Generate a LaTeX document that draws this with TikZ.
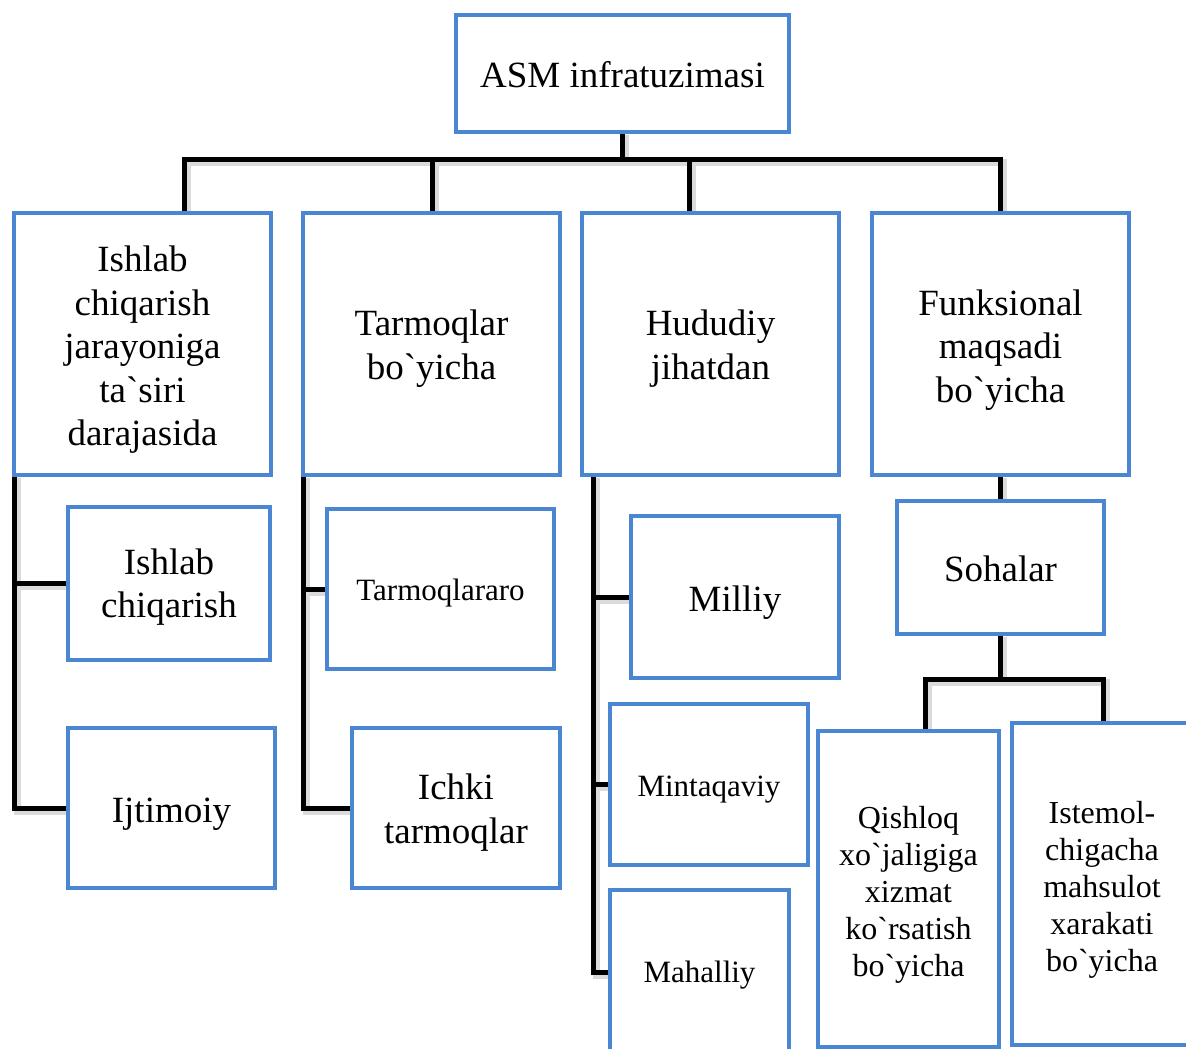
\documentclass[tikz,border=0pt]{standalone}
\usepackage{fontspec}
\setmainfont{Liberation Serif}[Ligatures=TeXOff]
\usetikzlibrary{backgrounds}
\definecolor{boxblue}{HTML}{4A86D2}
\newcommand\tx[2][5pt]{\raisebox{-#1}[\height][\depth]{\begin{tabular}{@{}c@{}}#2\end{tabular}}}
\begin{document}
\begin{tikzpicture}[x=1pt,y=-1pt,
  box/.style={draw=boxblue, line width=4pt, fill=white, inner sep=0pt, outer sep=0pt,
    align=center, font=\fontsize{37}{43.5}\selectfont},
  smalltext/.style={font=\fontsize{31}{37}\selectfont},
  midtext/.style={font=\fontsize{32}{37}\selectfont},
  conn/.style={draw=black, line width=5pt, line join=miter,
    preaction={draw=black!14, line width=7pt, transform canvas={shift={(3pt,-3pt)}}}}]
\useasboundingbox (0,0) rectangle (1186,1049);
\clip (0,0) rectangle (1186,1049);

% nodes
\node[box, minimum width=333pt, minimum height=117pt] (top) at (622.5,73.5) {\tx[5pt]{ASM infratuzimasi}};

\node[box, minimum width=257pt, minimum height=262pt] (b1) at (142.5,344) {\tx[6pt]{Ishlab\\chiqarish\\jarayoniga\\ta`siri\\darajasida}};
\node[box, minimum width=257pt, minimum height=262pt] (b2) at (431.5,344) {\tx{Tarmoqlar\\bo`yicha}};
\node[box, minimum width=257pt, minimum height=262pt] (b3) at (710.5,344) {\tx{Hududiy\\jihatdan}};
\node[box, minimum width=257pt, minimum height=262pt] (b4) at (1000.5,344) {\tx[6pt]{Funksional\\maqsadi\\bo`yicha}};

\node[box, minimum width=202pt, minimum height=153pt] (c11) at (169,583.5) {\tx[4pt]{Ishlab\\chiqarish}};
\node[box, minimum width=207pt, minimum height=160pt] (c12) at (171.5,808) {\tx[6pt]{Ijtimoiy}};

\node[box, smalltext, minimum width=227pt, minimum height=160pt] (c21) at (440.5,589) {\tx[4pt]{Tarmoqlararo}};
\node[box, minimum width=208pt, minimum height=160pt] (c22) at (456,808) {\tx{Ichki\\tarmoqlar}};

\node[box, minimum width=208pt, minimum height=162pt] (c31) at (735,597) {\tx[6pt]{Milliy}};
\node[box, smalltext, minimum width=198pt, minimum height=161pt] (c32) at (709,784.5) {\tx[5pt]{Mintaqaviy}};
\node[box, smalltext, minimum width=179pt, minimum height=164pt] (c33) at (699.5,972) {\tx[3pt]{Mahalliy}};

\node[box, minimum width=207pt, minimum height=133pt] (s) at (1000.5,567.5) {\tx[5pt]{Sohalar}};
\node[box, midtext, minimum width=181pt, minimum height=316pt] (q) at (908.5,889) {\tx[6pt]{Qishloq\\xo`jaligiga\\xizmat\\ko`rsatish\\bo`yicha}};
\node[box, midtext, minimum width=180pt, minimum height=322pt] (ist) at (1102,884) {\tx[6pt]{Istemol-\\chigacha\\mahsulot\\xarakati\\bo`yicha}};

% connector anchor points
\coordinate (bus1) at (184,159);
\coordinate (bus2) at (432,159);
\coordinate (bus3) at (689,159);
\coordinate (bus4) at (1000,159);
\coordinate (rail3) at (593,475);
\coordinate (sbusL) at (925,679);
\coordinate (sbusR) at (1103,679);

\begin{pgfonlayer}{background}
\fill[white] (0,0) rectangle (1186,1049);
\draw[conn] (top.south) -- (top.south |- bus1);
\draw[conn] (b1.north -| bus1) -- (bus1) -- (bus4) -- (b4.north -| bus4);
\draw[conn] (bus2) -- (b2.north -| bus2);
\draw[conn] (bus3) -- (b3.north -| bus3);

\draw[conn] (b1.south west) -- (b1.south west |- c12.west) -- (c12.west);
\draw[conn] (b1.south west |- c11.west) -- (c11.west);

\draw[conn] (b2.south west) -- (b2.south west |- c22.west) -- (c22.west);
\draw[conn] (b2.south west |- c21.west) -- (c21.west);

\draw[conn] (rail3) -- (rail3 |- c33.west) -- (c33.west);
\draw[conn] (rail3 |- c31.west) -- (c31.west);
\draw[conn] (rail3 |- c32.west) -- (c32.west);

\draw[conn] (b4.south) -- (s.north);
\draw[conn] (s.south) -- (s.south |- sbusL);
\draw[conn] (q.north -| sbusL) -- (sbusL) -- (sbusR) -- (ist.north -| sbusR);
\end{pgfonlayer}
\end{tikzpicture}
\end{document}
